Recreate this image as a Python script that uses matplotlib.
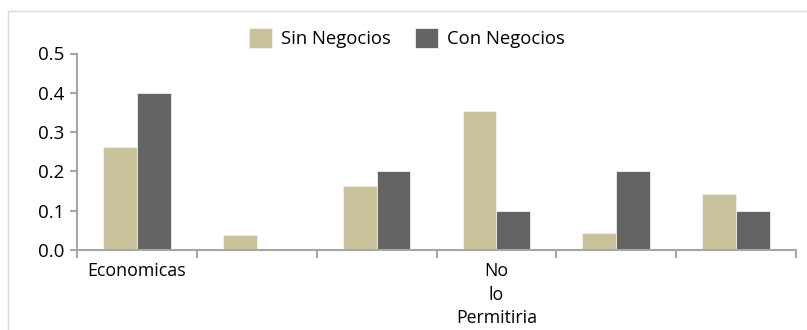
import matplotlib
matplotlib.use("Agg")
import matplotlib.pyplot as plt
from matplotlib.patches import Rectangle
import numpy as np

plt.rcParams['font.family'] = ['Open Sans', 'DejaVu Sans']

categories = ["Economicas", "", "", "No\nlo\nPermitiria", "", ""]
sin_negocios = [0.263, 0.038, 0.163, 0.354, 0.042, 0.143]
con_negocios = [0.40, 0.0, 0.20, 0.10, 0.20, 0.10]
series_names = ["Sin Negocios", "Con Negocios"]
yticks = [0.0, 0.1, 0.2, 0.3, 0.4, 0.5]

c_sin = "#C9C29C"
c_con = "#646464"
axis_gray = "#A6A6A6"

fig = plt.figure(figsize=(8.07, 3.30), dpi=100)
fig.patches.append(Rectangle((8 / 807, -0.1), 1.1, 1 - 11 / 330 + 0.1,
                             transform=fig.transFigure, fill=False,
                             edgecolor="#D9D9D9", linewidth=1.0))

ax = fig.add_axes([77 / 807, 1 - 250 / 330, (796 - 77) / 807, (250 - 53.5) / 330])

x = np.arange(len(categories))
w = 0.283
ax.bar(x - w / 2, sin_negocios, w, color=c_sin, edgecolor="#F2F0E6", linewidth=0.6,
       label=series_names[0])
ax.bar(x + w / 2, con_negocios, w, color=c_con, edgecolor="#F0F0F0", linewidth=0.6,
       label=series_names[1])

ax.set_xlim(-0.5, len(categories) - 0.5)
ax.set_ylim(0, 0.5)
ax.set_yticks(yticks)
ax.set_yticklabels([f"{v:.1f}" for v in yticks])

ax.set_xticks(x)
ax.set_xticklabels(categories, linespacing=1.36)
ax.set_xticks(np.arange(len(categories) + 1) - 0.5, minor=True)
ax.tick_params(axis="x", which="major", length=0, pad=9, labelsize=12.8, colors="black")
ax.tick_params(axis="x", which="minor", length=6, width=1.5, color=axis_gray)
ax.tick_params(axis="y", length=5, width=1.5, color=axis_gray, labelsize=13.5, pad=4)

for s in ["top", "right"]:
    ax.spines[s].set_visible(False)
for s in ["left", "bottom"]:
    ax.spines[s].set_color(axis_gray)
    ax.spines[s].set_linewidth(1.5)

fig.legend(loc="center", bbox_to_anchor=(407 / 807, 1 - 38 / 330), ncol=2,
           frameon=False, fontsize=13.3, handlelength=1.25, handleheight=1.25,
           handletextpad=0.5, columnspacing=1.3)

fig.savefig("out.png", dpi=100)
